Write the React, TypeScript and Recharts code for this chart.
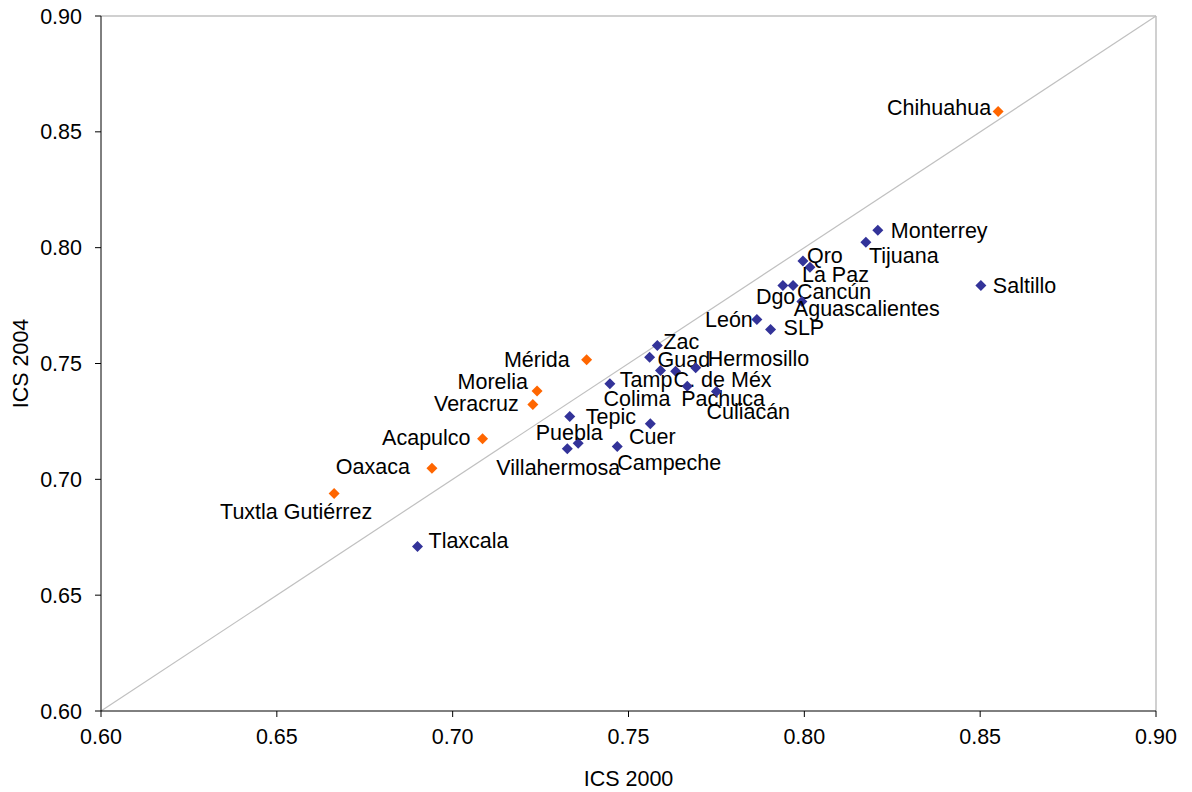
import React from 'react';
import { ScatterChart, Scatter, XAxis, YAxis, ReferenceLine } from 'recharts';

const orangeNames = ['Chihuahua', 'Mérida', 'Morelia', 'Veracruz', 'Acapulco', 'Oaxaca', 'Tuxtla Gutiérrez'];
const orangeX = [0.8551, 0.7381, 0.724, 0.7228, 0.7085, 0.6941, 0.6663];
const orangeY = [0.8588, 0.7516, 0.7381, 0.7323, 0.7175, 0.7048, 0.6939];

const blueNames = [
  'Monterrey', 'Tijuana', 'Saltillo', 'Qro', 'La Paz', 'Dgo', 'Cancún', 'Aguascalientes', 'León', 'SLP',
  'Zac', 'Guad', 'Hermosillo', 'C. de Méx', 'Colima', 'Tamp', 'Pachuca', 'Culiacán', 'Tepic', 'Cuer',
  'Puebla', 'Villahermosa', 'Campeche', 'Tlaxcala',
];
const blueX = [
  0.8209, 0.8175, 0.8502, 0.7996, 0.8016, 0.7939, 0.7968, 0.7993, 0.7865, 0.7904,
  0.7582, 0.756, 0.7691, 0.7634, 0.7591, 0.7447, 0.7667, 0.775, 0.7333, 0.7562,
  0.7357, 0.7326, 0.7468, 0.69,
];
const blueY = [
  0.8075, 0.8023, 0.7837, 0.7942, 0.7916, 0.7837, 0.7837, 0.7768, 0.769, 0.7647,
  0.7578, 0.7527, 0.7482, 0.7467, 0.747, 0.7413, 0.7402, 0.7379, 0.7271, 0.724,
  0.7156, 0.7132, 0.7142, 0.671,
];

const axisTicks = [0.6, 0.65, 0.7, 0.75, 0.8, 0.85, 0.9];
const xTitle = 'ICS 2000';
const yTitle = 'ICS 2004';

// label placement (layout only): [anchor, dx, dy]
const labelPlacement: Record<string, [string, number, number]> = {
  Chihuahua: ['end', -7, -3],
  'Mérida': ['end', -17, 0],
  Morelia: ['end', -9, -9],
  Veracruz: ['end', -14, -1],
  Acapulco: ['end', -12, -1],
  Oaxaca: ['end', -22, -1],
  'Tuxtla Gutiérrez': ['middle', -38, 19],
  Monterrey: ['start', 13, 1],
  Tijuana: ['start', 3, 14],
  Saltillo: ['start', 12, 1],
  Qro: ['start', 4, -5],
  'La Paz': ['start', -8, 8],
  Dgo: ['start', -27, 12],
  'Cancún': ['start', 4, 7],
  Aguascalientes: ['start', -8, 8],
  'León': ['end', -4, 1],
  SLP: ['start', 13, -1],
  Zac: ['start', 6, -3],
  Guad: ['start', 8, 3],
  Hermosillo: ['start', 12, -9],
  'C. de Méx': ['start', -2, 9],
  Colima: ['start', -57, 29],
  Tamp: ['start', 10, -4],
  Pachuca: ['start', -6, 13],
  'Culiacán': ['start', -10, 20],
  Tepic: ['start', 16, 0],
  Cuer: ['middle', 2, 13],
  Puebla: ['middle', -9, -10],
  Villahermosa: ['middle', -9, 19],
  Campeche: ['start', 0, 17],
  Tlaxcala: ['start', 11, -6],
};

const FONT = '"Liberation Sans", Arial, sans-serif';
const FS = 21.5;

const orangeData = orangeNames.map((n, i) => ({ name: n, x: orangeX[i], y: orangeY[i] }));
const blueData = blueNames.map((n, i) => ({ name: n, x: blueX[i], y: blueY[i] }));

const makeShape = (color: string) => (props: any) => {
  const { cx, cy, payload } = props;
  if (cx == null || cy == null) return <g />;
  const r = 5.5;
  const p = labelPlacement[payload.name] || ['start', 10, 0];
  return (
    <g>
      <path d={`M${cx},${cy - r}L${cx + r},${cy}L${cx},${cy + r}L${cx - r},${cy}Z`} fill={color} />
      <text
        x={cx + p[1]}
        y={cy + p[2]}
        textAnchor={p[0] as any}
        dominantBaseline="central"
        fontFamily={FONT}
        fontSize={FS}
        fill="#000"
      >
        {payload.name}
      </text>
    </g>
  );
};

export default function App() {
  return (
    <div style={{ position: 'absolute', left: 0, top: 0, width: 1192, height: 792, background: '#fff' }}>
      <ScatterChart width={1192} height={792} margin={{ top: 16, right: 36, bottom: 0, left: 0 }}>
        <XAxis
          type="number"
          dataKey="x"
          domain={[0.6, 0.9]}
          ticks={axisTicks}
          allowDataOverflow
          tickFormatter={(v: number) => v.toFixed(2)}
          height={81}
          tickSize={6}
          tickMargin={12}
          stroke="#000"
          tick={{ fill: '#000', fontFamily: FONT, fontSize: FS }}
          label={{ value: xTitle, position: 'insideBottom', offset: 6, fill: '#000', fontFamily: FONT, fontSize: FS }}
        />
        <YAxis
          type="number"
          dataKey="y"
          domain={[0.6, 0.9]}
          ticks={axisTicks}
          allowDataOverflow
          tickFormatter={(v: number) => v.toFixed(2)}
          width={101}
          tickSize={6}
          tickMargin={13}
          stroke="#000"
          tick={{ fill: '#000', fontFamily: FONT, fontSize: FS }}
          label={{
            value: yTitle,
            angle: -90,
            position: 'insideLeft',
            offset: 20,
            fill: '#000',
            fontFamily: FONT,
            fontSize: FS,
            style: { textAnchor: 'middle' },
          }}
        />
        <ReferenceLine y={0.9} stroke="#C0C0C0" strokeWidth={1.5} ifOverflow="visible" />
        <ReferenceLine x={0.9} stroke="#C0C0C0" strokeWidth={1.5} ifOverflow="visible" />
        <ReferenceLine
          segment={[{ x: 0.6, y: 0.6 }, { x: 0.9, y: 0.9 }]}
          stroke="#C0C0C0"
          strokeWidth={1.2}
          ifOverflow="visible"
        />
        <Scatter data={orangeData} fill="#FF6600" shape={makeShape('#FF6600')} isAnimationActive={false} />
        <Scatter data={blueData} fill="#333399" shape={makeShape('#333399')} isAnimationActive={false} />
      </ScatterChart>
    </div>
  );
}
